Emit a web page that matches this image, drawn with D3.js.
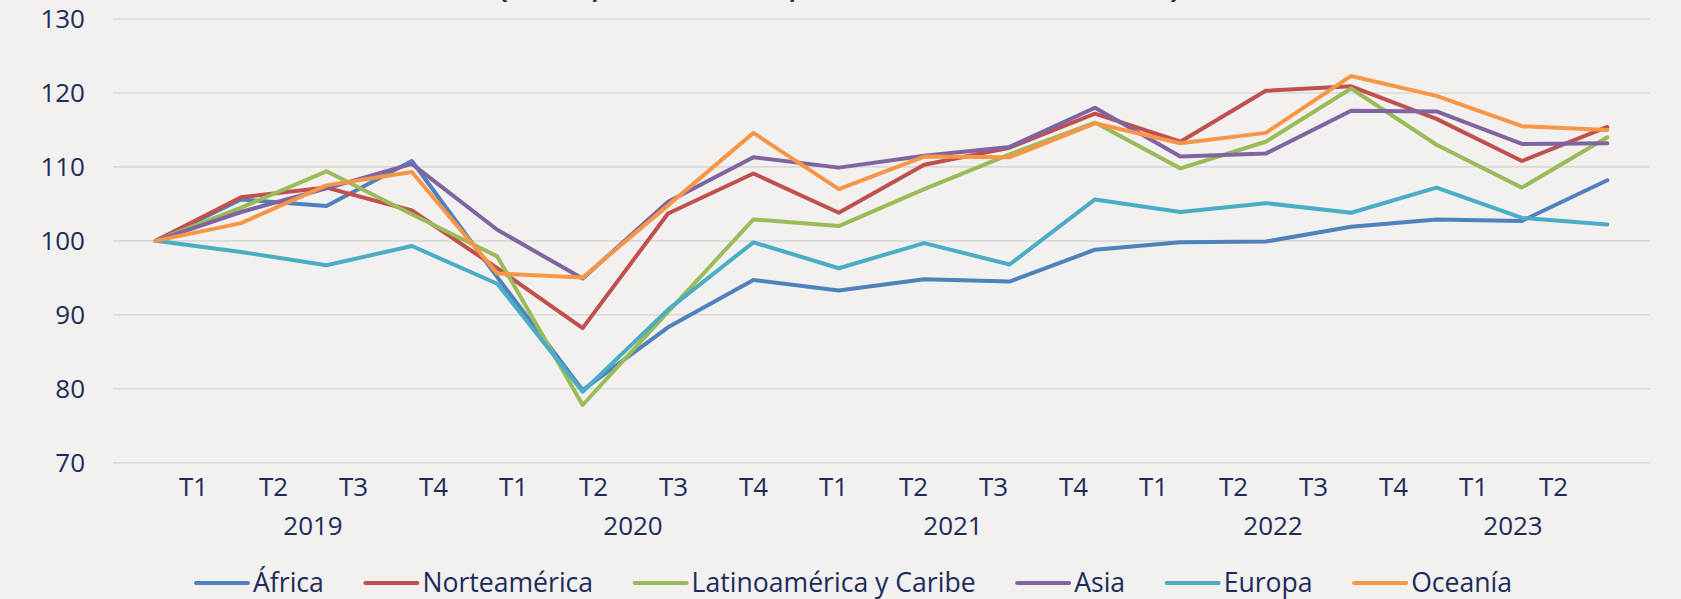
<!DOCTYPE html>
<html>
<head>
<meta charset="utf-8">
<script src="https://cdn.jsdelivr.net/npm/d3@7"></script>
<style>
  html, body { margin: 0; padding: 0; background: #f2f1ef; }
  svg { display: block; font-family: 'Open Sans', sans-serif; }
</style>
</head>
<body>
<svg id="chart"></svg>
<script>
// quarters and years on the category axis
const quarterLabels = ['T1', 'T2', 'T3', 'T4', 'T1', 'T2', 'T3', 'T4', 'T1', 'T2', 'T3', 'T4',
  'T1', 'T2', 'T3', 'T4', 'T1', 'T2'];
const yearLabels = ['2019', '2020', '2021', '2022', '2023'];
const yTicks = [70, 80, 90, 100, 110, 120, 130];

// index values per region
const africa = [100, 105.6, 104.7, 110.8, 95.1, 79.8, 88.3, 94.7, 93.3, 94.8, 94.5, 98.8,
  99.8, 99.9, 101.9, 102.9, 102.7, 108.2];
const norteamerica = [100, 105.9, 107.2, 104.1, 96.3, 88.2, 103.7, 109.1, 103.8, 110.3, 112.6, 117.2,
  113.4, 120.3, 120.9, 116.5, 110.8, 115.4];
const latinoamerica = [100, 104.5, 109.4, 103.6, 97.9, 77.8, 90.4, 102.9, 102.0, 107.0, 111.7, 116.0,
  109.8, 113.4, 120.6, 113.0, 107.2, 114.0];
const asia = [100, 103.9, 107.1, 110.4, 101.5, 94.9, 105.3, 111.3, 109.9, 111.5, 112.7, 118.0,
  111.4, 111.8, 117.6, 117.5, 113.1, 113.2];
const europa = [100, 98.5, 96.7, 99.3, 94.2, 79.6, 90.7, 99.8, 96.3, 99.7, 96.8, 105.6,
  103.9, 105.1, 103.8, 107.2, 103.1, 102.2];
const oceania = [100, 102.4, 107.5, 109.3, 95.6, 95.05, 104.8, 114.6, 107.0, 111.4, 111.3, 115.9,
  113.2, 114.6, 122.3, 119.6, 115.5, 115.0];

const seriesNames = ['África', 'Norteamérica', 'Latinoamérica y Caribe', 'Asia', 'Europa', 'Oceanía'];
const seriesValues = [africa, norteamerica, latinoamerica, asia, europa, oceania];
const colors = ['#4f81bd', '#c0504d', '#9bbb59', '#8064a2', '#4bacc6', '#f79646'];

const width = 1681;
const height = 599;
const textColor = '#1c2b59';

const svg = d3.select('#chart')
  .attr('width', width)
  .attr('height', height);

svg.append('rect')
  .attr('width', width)
  .attr('height', height)
  .attr('fill', '#f2f1ef');

// title, mostly cut off at the top edge in the reference
svg.append('text')
  .attr('x', 839)
  .attr('y', -2)
  .attr('text-anchor', 'middle')
  .attr('font-size', '28px')
  .attr('font-weight', 'bold')
  .attr('fill', textColor)
  .text('(índice, T1 2019 = 100, datos desestacionalizados)');

const plotLeft = 113;
const plotRight = 1650;

const idx = d3.range(quarterLabels.length);

const x = d3.scalePoint()
  .domain(idx)
  .range([plotLeft, plotRight])
  .padding(0.5);

// category labels sit on their own spacing in the original
const xLabel = d3.scalePoint()
  .domain(idx)
  .range([193, 1553]);

const y = d3.scaleLinear()
  .domain([70, 130])
  .range([462.7, 19]);

// gridlines
svg.append('g')
  .selectAll('line')
  .data(yTicks)
  .enter()
  .append('line')
  .attr('x1', plotLeft)
  .attr('x2', plotRight)
  .attr('y1', d => y(d))
  .attr('y2', d => y(d))
  .attr('stroke', '#d9d9d9')
  .attr('stroke-width', 1.6);

// y labels
const yAxis = d3.axisLeft(y)
  .tickValues(yTicks)
  .tickSize(0)
  .tickPadding(0);

const yg = svg.append('g')
  .attr('transform', 'translate(85,0)')
  .call(yAxis);
yg.select('.domain').remove();
yg.selectAll('text')
  .attr('font-family', 'Open Sans, sans-serif')
  .attr('font-size', '26px')
  .attr('fill', textColor)
  .attr('dy', '0.34em');

// x labels
const xAxis = d3.axisBottom(xLabel)
  .tickFormat(i => quarterLabels[i])
  .tickSize(0)
  .tickPadding(0);

const xg = svg.append('g')
  .attr('transform', 'translate(0,478)')
  .call(xAxis);
xg.select('.domain').remove();
xg.selectAll('text')
  .attr('font-family', 'Open Sans, sans-serif')
  .attr('font-size', '26px')
  .attr('fill', textColor)
  .attr('dy', '0.71em');

svg.append('g')
  .selectAll('text')
  .data(yearLabels)
  .enter()
  .append('text')
  .attr('x', (d, k) => {
    const qs = idx.slice(k * 4, k * 4 + 4);
    return d3.mean(qs, i => xLabel(i));
  })
  .attr('y', 535)
  .attr('text-anchor', 'middle')
  .attr('font-size', '26px')
  .attr('fill', textColor)
  .text(d => d);

// series lines
const line = d3.line()
  .x((d, i) => x(i))
  .y(d => y(d));

svg.append('g')
  .selectAll('path')
  .data(seriesValues)
  .enter()
  .append('path')
  .attr('d', d => line(d))
  .attr('fill', 'none')
  .attr('stroke', (d, k) => colors[k])
  .attr('stroke-width', 4)
  .attr('stroke-linejoin', 'round')
  .attr('stroke-linecap', 'round');

// legend
const legend = svg.append('g').attr('transform', 'translate(0,583)');
let lx = 196;
seriesNames.forEach((name, k) => {
  const item = legend.append('g').attr('transform', 'translate(' + lx + ',0)');
  item.append('line')
    .attr('x1', 0)
    .attr('x2', 52)
    .attr('stroke', colors[k])
    .attr('stroke-width', 4)
    .attr('stroke-linecap', 'round');
  const t = item.append('text')
    .attr('x', 57)
    .attr('y', 9)
    .attr('font-size', '26.6px')
    .attr('fill', textColor)
    .text(name);
  lx += 57 + t.node().getComputedTextLength() + 41.5;
});
</script>
</body>
</html>
